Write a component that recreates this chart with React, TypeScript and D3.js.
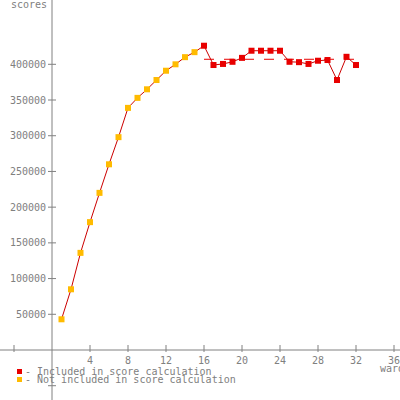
import React from 'react';
import * as d3 from 'd3';

// wards 1..32, scores
const wards = [1, 2, 3, 4, 5, 6, 7, 8, 9, 10, 11, 12, 13, 14, 15, 16, 17, 18, 19, 20, 21, 22, 23, 24, 25, 26, 27, 28, 29, 30, 31, 32];
const scores = [
  43000, 85000, 136000, 179000, 220000, 260000, 298000, 339000, 353000, 365000, 378000, 391000, 400000, 410000, 417000,
  426000, 399000, 400500, 403500, 409000, 419000, 419000, 419000, 419000, 403500, 403000, 400500, 405000, 406000, 378000, 410500, 399000,
];
const firstIncluded = 16;
const xTicks = [-4, 4, 8, 12, 16, 20, 24, 28, 32, 36];
const yTicks = [-50000, 50000, 100000, 150000, 200000, 250000, 300000, 350000, 400000];
const legendItems = ['- Included in score calculation', '- Not included in score calculation'];

const RED = '#e80000';
const YELLOW = '#ffbb00';
const GREY = '#808080';
const FONT = '"DejaVu Sans Mono", monospace';

const App: React.FC = () => {
  const x = d3.scaleLinear().domain([0, 36]).range([52, 394]);
  const y = d3.scaleLinear().domain([0, 400000]).range([350, 64.3]);

  const pts = wards.map((w, i) => ({ w, s: scores[i], inc: w >= firstIncluded }));
  const line = d3.line<{ w: number; s: number }>().x(d => x(d.w)).y(d => y(d.s));
  const inc = pts.filter(d => d.inc);
  const avg = d3.mean(inc, d => d.s) || 0;

  return (
    <svg width={400} height={400} style={{ position: 'absolute', left: 0, top: 0, background: '#fff' }}>
      {/* axes */}
      <line x1={0} x2={400} y1={y(0)} y2={y(0)} stroke={GREY} />
      <line x1={x(0)} x2={x(0)} y1={0} y2={400} stroke={GREY} />
      {xTicks.map(t => (
        <g key={t}>
          <line x1={x(t)} x2={x(t)} y1={y(0) - 5} y2={y(0) + 2} stroke={GREY} />
          {t > 0 && (
            <text x={x(t)} y={364} textAnchor="middle" fontFamily={FONT} fontSize={10} fill={GREY}>{t}</text>
          )}
        </g>
      ))}
      {yTicks.map(t => (
        <g key={t}>
          <line x1={x(0) - 4} x2={x(0) + 4} y1={y(t)} y2={y(t)} stroke={GREY} />
          {t > 0 && (
            <text x={46} y={y(t) + 3.5} textAnchor="end" fontFamily={FONT} fontSize={10} fill={GREY}>{t}</text>
          )}
        </g>
      ))}
      <text x={47} y={8} textAnchor="end" fontFamily={FONT} fontSize={10} fill={GREY}>scores</text>
      <text x={380} y={372} fontFamily={FONT} fontSize={10} fill={GREY}>ward</text>

      {/* average of included */}
      <line x1={x(firstIncluded)} x2={x(wards[wards.length - 1])} y1={y(avg)} y2={y(avg)}
        stroke={RED} strokeDasharray="10,10" />

      <path d={line(pts) || ''} fill="none" stroke="#cc0000" strokeWidth={1} />
      {pts.map(d => (
        <rect key={d.w} x={x(d.w) - 3} y={y(d.s) - 3} width={6} height={6} fill={d.inc ? RED : YELLOW} />
      ))}

      {/* legend */}
      {legendItems.map((t, i) => (
        <g key={t}>
          <rect x={17} y={369 + i * 8} width={5} height={5} fill={i === 0 ? RED : YELLOW} />
          <text x={25} y={375 + i * 8} fontFamily={FONT} fontSize={10} fill={GREY}>{t}</text>
        </g>
      ))}
    </svg>
  );
};

export default App;
